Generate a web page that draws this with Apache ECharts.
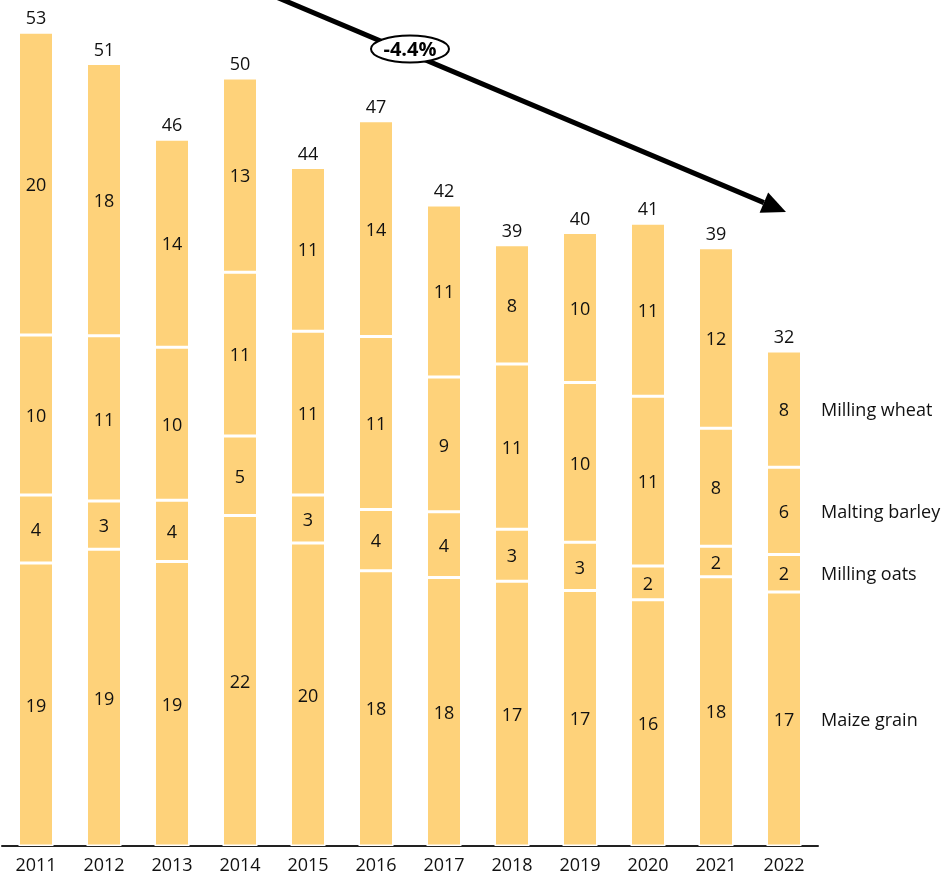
<!DOCTYPE html>
<html>
<head>
<meta charset="utf-8">
<script src="https://cdn.jsdelivr.net/npm/echarts@6/dist/echarts.min.js"></script>
<style>
html,body{margin:0;padding:0;background:#fff;}
#chart{width:947px;height:874px;}
</style>
</head>
<body>
<div id="chart"></div>
<script>
var years = ['2011','2012','2013','2014','2015','2016','2017','2018','2019','2020','2021','2022'];
var maizeGrain    = [18.5, 19.4, 18.6, 21.6, 19.8, 18.0, 17.55, 17.3, 16.7, 16.1, 17.6, 16.6];
var millingOats   = [4.45, 3.15, 4.0, 5.2, 3.15, 4.0, 4.3, 3.4, 3.15, 2.2, 2.0, 2.45];
var maltingBarley = [10.45, 10.8, 10.0, 10.7, 10.7, 11.3, 8.8, 10.8, 10.45, 11.1, 7.7, 5.7];
var millingWheat  = [19.8, 17.8, 13.6, 12.7, 10.7, 14.1, 11.25, 7.8, 9.8, 11.3, 11.8, 7.6];
var seriesNames = ['Maize grain', 'Milling oats', 'Malting barley', 'Milling wheat'];
var cagrLabel = '-4.4%';

var stacks = [maizeGrain, millingOats, maltingBarley, millingWheat];
var totals = years.map(function (y, i) {
  return stacks.reduce(function (s, a) { return s + a[i]; }, 0);
});

var barColor = '#FED27A';
var textColor = '#111111';
var fontFam = '"Open Sans", Lato, sans-serif';
var fs = 18;

var series = [];
stacks.forEach(function (arr, k) {
  series.push({
    name: seriesNames[k],
    type: 'bar',
    stack: 'total',
    barWidth: 35,
    data: arr,
    itemStyle: { color: barColor, borderColor: '#ffffff', borderWidth: 1.5 },
    label: {
      show: true, position: 'inside', offset: [0, 2], color: textColor, fontSize: fs, fontFamily: fontFam,
      formatter: function (p) { return Math.round(p.value); }
    },
    emphasis: { disabled: true },
    silent: true
  });
});

// totals above bars
series.push({
  type: 'scatter',
  data: totals,
  symbolSize: 0,
  silent: true,
  itemStyle: { opacity: 1 },
  label: {
    show: true, position: 'top', distance: 4, color: textColor, opacity: 1, fontSize: fs, fontFamily: fontFam,
    formatter: function (p) { return Math.round(p.value); }
  }
});

// series names to the right of the last bar
var last = years.length - 1;
var cum = 0;
stacks.forEach(function (arr, k) {
  var mid = cum + arr[last] / 2;
  cum += arr[last];
  series.push({
    type: 'scatter',
    data: [[years[last], mid]],
    symbolSize: 0,
    silent: true,
    itemStyle: { opacity: 1 },
    label: {
      show: true, position: 'right', distance: 37, offset: [0, 2], color: textColor, opacity: 1, fontSize: fs, fontFamily: fontFam,
      formatter: seriesNames[k]
    }
  });
});

// trend arrow
var T = [786, 212], S = [275, -3.5];
var dx = T[0] - S[0], dy = T[1] - S[1];
var len = Math.sqrt(dx * dx + dy * dy);
var ux = dx / len, uy = dy / len, px = -uy, py = ux;
var hl = 24, hw = 11;
var B = [T[0] - hl * ux, T[1] - hl * uy];

var chart = echarts.init(document.getElementById('chart'), null, { renderer: 'canvas' });
chart.setOption({
  animation: false,
  backgroundColor: '#ffffff',
  grid: { left: 2, right: 129, top: 0, bottom: 28, containLabel: false, outerBoundsMode: 'none' },
  xAxis: {
    type: 'category',
    data: years,
    axisLine: { lineStyle: { color: '#222', width: 2 } },
    axisTick: { show: false },
    axisLabel: { color: textColor, fontSize: fs, fontFamily: fontFam, margin: 11 }
  },
  yAxis: {
    type: 'value', min: 0, max: 55.3,
    show: false,
    splitLine: { show: false }
  },
  series: series,
  graphic: [
    {
      type: 'line', z: 100,
      shape: { x1: S[0], y1: S[1], x2: B[0], y2: B[1] },
      style: { stroke: '#000', lineWidth: 5 }
    },
    {
      type: 'polygon', z: 100,
      shape: { points: [T, [B[0] + hw * px, B[1] + hw * py], [B[0] - hw * px, B[1] - hw * py]] },
      style: { fill: '#000' }
    },
    {
      type: 'ellipse', z: 101,
      shape: { cx: 410, cy: 49, rx: 39, ry: 13.5 },
      style: { fill: '#fff', stroke: '#000', lineWidth: 2 }
    },
    {
      type: 'text', z: 102,
      x: 410, y: 50,
      style: {
        text: cagrLabel, fill: '#000', font: 'bold 20px ' + fontFam,
        align: 'center', verticalAlign: 'middle'
      }
    }
  ]
});
</script>
</body>
</html>
